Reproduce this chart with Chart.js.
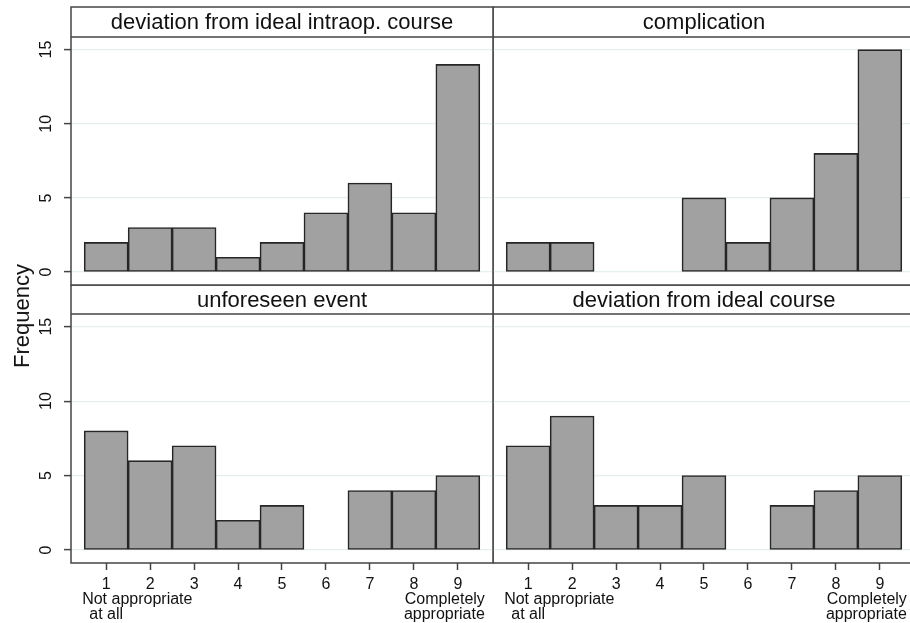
<!DOCTYPE html>
<html>
<head>
<meta charset="utf-8">
<script src="https://cdn.jsdelivr.net/npm/chart.js@4.4.1/dist/chart.umd.min.js"></script>
<style>
  body { margin: 0; background: #fff; }
  #wrap { position: relative; width: 910px; height: 623px; overflow: hidden; background: #fff; }
  canvas { position: absolute; }
  #ytitle {
    position: absolute; left: 22px; top: 316px; width: 0; height: 0;
    font: 22px "Liberation Sans", Arial, sans-serif; color: #111;
  }
  #ytitle span {
    position: absolute; transform: translate(-50%, -50%) rotate(-90deg);
    white-space: nowrap;
  }
</style>
</head>
<body>
<div id="wrap">
  <canvas id="c1" width="494" height="286" style="left:0;top:0"></canvas>
  <canvas id="c2" width="424" height="286" style="left:493px;top:0"></canvas>
  <canvas id="c3" width="494" height="338" style="left:0;top:285px"></canvas>
  <canvas id="c4" width="424" height="338" style="left:493px;top:285px"></canvas>
  <div id="ytitle"><span>Frequency</span></div>
</div>
<script>
// rating bins 1..9 and the counts for each panel
const bins = [1, 2, 3, 4, 5, 6, 7, 8, 9];
const intraopCounts = [2, 3, 3, 1, 2, 4, 6, 4, 14];
const complicationCounts = [2, 2, 0, 0, 5, 2, 5, 8, 15];
const unforeseenCounts = [8, 6, 7, 2, 3, 0, 4, 4, 5];
const idealCourseCounts = [7, 9, 3, 3, 5, 0, 3, 4, 5];
const yTicks = [0, 5, 10, 15];
const lowLabel = ['Not appropriate', 'at all'];
const highLabel = ['Completely', 'appropriate'];

const FONT = '"Liberation Sans", Arial, Helvetica, sans-serif';
const LINE = '#444';

// empty bins get no bar at all
const isEmpty = c => c.raw && c.raw.y === 0;

// frame, strip title, rotated y labels and end-point captions
const panelPlugin = {
    id: 'panel',
    afterDraw(chart, args, opts) {
        const ctx = chart.ctx;
        const a = chart.chartArea;
        const top = a.top - opts.strip;
        ctx.save();
        ctx.strokeStyle = LINE;
        ctx.lineWidth = 1.5;
        ctx.strokeRect(a.left, top, a.right - a.left, a.bottom - top);
        ctx.beginPath();
        ctx.moveTo(a.left, a.top);
        ctx.lineTo(a.right, a.top);
        ctx.stroke();

        ctx.fillStyle = '#111';
        ctx.font = '22px ' + FONT;
        ctx.textAlign = 'center';
        ctx.textBaseline = 'middle';
        ctx.fillText(opts.title, (a.left + a.right) / 2, top + opts.strip / 2 + 1);

        if (opts.yLabels) {
            const ys = chart.scales.y;
            ctx.font = '16px ' + FONT;
            yTicks.forEach(v => {
                ctx.save();
                ctx.translate(a.left - 24, ys.getPixelForValue(v));
                ctx.rotate(-Math.PI / 2);
                ctx.fillText(String(v), 0, 0);
                ctx.restore();
            });
        }

        if (opts.xLabels) {
            const xs = chart.scales.x;
            const x1 = xs.getPixelForValue(bins[0]);
            const x9 = xs.getPixelForValue(bins[bins.length - 1]);
            ctx.font = '16px ' + FONT;
            ctx.textAlign = 'left';
            ctx.fillText(lowLabel[0], x1 - 24, a.bottom + 37);
            ctx.textAlign = 'center';
            ctx.fillText(lowLabel[1], x1, a.bottom + 52);
            ctx.textAlign = 'right';
            ctx.fillText(highLabel[0], x9 + 27, a.bottom + 37);
            ctx.fillText(highLabel[1], x9 + 27, a.bottom + 52);
        }
        ctx.restore();
    }
};

function makePanel(id, title, counts, isLeft, isBottom) {
    const ctx = document.getElementById(id).getContext('2d');
    return new Chart(ctx, {
        type: 'bar',
        data: {
            datasets: [{
                data: bins.map((b, i) => ({ x: b, y: counts[i] })),
                backgroundColor: c => isEmpty(c) ? 'rgba(0,0,0,0)' : '#a1a1a1',
                borderColor: c => isEmpty(c) ? 'rgba(0,0,0,0)' : '#262626',
                borderWidth: c => isEmpty(c) ? 0 : 1.6,
                borderSkipped: false,
                barPercentage: 1,
                categoryPercentage: 1
            }]
        },
        options: {
            responsive: false,
            animation: false,
            devicePixelRatio: 1,
            layout: {
                padding: {
                    top: isBottom ? 29 : 37,
                    bottom: isBottom ? 0 : 1,
                    left: 0,
                    right: isLeft ? 1 : 2
                }
            },
            plugins: {
                legend: { display: false },
                tooltip: { enabled: false },
                panel: { title: title, strip: isBottom ? 29 : 30, yLabels: isLeft, xLabels: isBottom }
            },
            scales: {
                x: {
                    type: 'linear',
                    min: 0.2,
                    max: 9.8,
                    offset: false,
                    display: isBottom,
                    afterBuildTicks: s => { s.ticks = bins.map(v => ({ value: v })); },
                    afterFit: s => { if (isBottom) s.height = 60; },
                    grid: {
                        offset: false,
                        drawOnChartArea: false,
                        drawTicks: true,
                        tickLength: 7,
                        tickColor: LINE,
                        tickWidth: 1.5
                    },
                    border: { display: false },
                    ticks: {
                        color: '#111',
                        font: { family: FONT, size: 16 },
                        padding: 5,
                        maxRotation: 0,
                        autoSkip: false
                    }
                },
                y: {
                    min: -0.87,
                    max: 15.85,
                    afterBuildTicks: s => { s.ticks = yTicks.map(v => ({ value: v })); },
                    afterFit: s => { s.width = isLeft ? 71 : 0; },
                    grid: {
                        color: '#e6eeee',
                        lineWidth: 1.2,
                        drawTicks: isLeft,
                        tickLength: 7,
                        tickColor: LINE,
                        tickWidth: 1.5
                    },
                    border: { display: false },
                    ticks: { display: false }
                }
            }
        },
        plugins: [panelPlugin]
    });
}

makePanel('c1', 'deviation from ideal intraop. course', intraopCounts, true, false);
makePanel('c2', 'complication', complicationCounts, false, false);
makePanel('c3', 'unforeseen event', unforeseenCounts, true, true);
makePanel('c4', 'deviation from ideal course', idealCourseCounts, false, true);
</script>
</body>
</html>
